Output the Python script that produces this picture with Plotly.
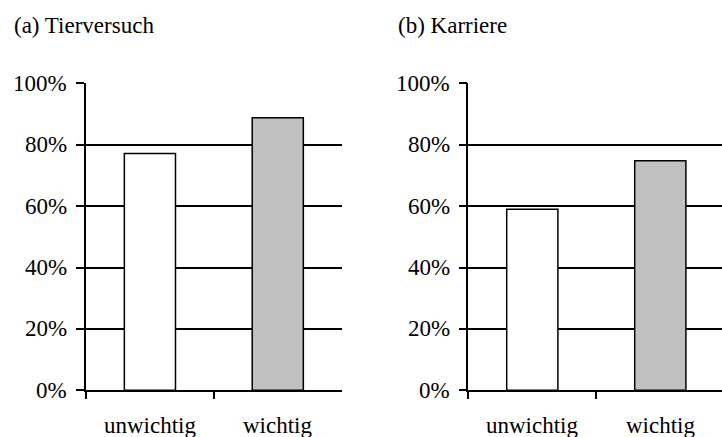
import plotly.graph_objects as go

categories = ["unwichtig", "wichtig"]
tierversuch = [0.771, 0.888]
karriere = [0.590, 0.748]
bar_colors = ["#FFFFFF", "#C0C0C0"]
titles = ["(a) Tierversuch", "(b) Karriere"]
y_ticks = [0, 0.2, 0.4, 0.6, 0.8, 1.0]
y_tick_labels = ["0%", "20%", "40%", "60%", "80%", "100%"]

W, H = 722, 437
FONT = dict(family="'Liberation Serif'", size=23, color="black")

fig = go.Figure()
fig.add_trace(go.Bar(x=categories, y=tierversuch, marker=dict(color=bar_colors, line=dict(color="black", width=1.5)),
                     width=0.4, xaxis="x", yaxis="y", showlegend=False, hoverinfo="skip"))
fig.add_trace(go.Bar(x=categories, y=karriere, marker=dict(color=bar_colors, line=dict(color="black", width=1.5)),
                     width=0.4, xaxis="x2", yaxis="y2", showlegend=False, hoverinfo="skip"))

ydom = [(H - 390.3) / H, (H - 83.3) / H]
xcommon = dict(type="category", showline=True, linecolor="black", linewidth=1.5, ticks="outside",
               tickson="boundaries", ticklen=7, tickwidth=1.5, tickcolor="black", showgrid=False,
               showticklabels=False, fixedrange=True, automargin=False)
ycommon = dict(range=[0, 1], tickvals=y_ticks, showline=True, linecolor="black", linewidth=1.5,
               ticks="outside", ticklen=8, tickwidth=1.5, tickcolor="black", showgrid=True, gridcolor="black",
               gridwidth=1.5, zeroline=False, showticklabels=False, domain=ydom, fixedrange=True,
               automargin=False)

annotations = [
    dict(text=titles[0], xref="paper", yref="paper", x=12 / W, y=(H - 25) / H, xanchor="left",
         yanchor="middle", showarrow=False, font=FONT),
    dict(text=titles[1], xref="paper", yref="paper", x=396 / W, y=(H - 25) / H, xanchor="left",
         yanchor="middle", showarrow=False, font=FONT),
]
# tick labels (serif), placed through the axes' own scales
for xr, yr, xlab in [("x", "y", 69 / W), ("x2", "y2", 452 / W)]:
    for v, lab in zip(y_ticks, y_tick_labels):
        annotations.append(dict(text=lab, xref="paper", yref=yr, x=xlab, y=v, xanchor="right",
                                yanchor="middle", showarrow=False, font=FONT))
    for c in categories:
        annotations.append(dict(text=c, xref=xr, yref="paper", x=c, y=(H - 410.5) / H, xanchor="center",
                                yanchor="top", showarrow=False, font=FONT))

fig.update_layout(
    template="none",
    width=W, height=H, margin=dict(l=0, r=0, t=0, b=0, pad=0),
    plot_bgcolor="white", paper_bgcolor="white", font=FONT,
    xaxis=dict(xcommon, domain=[86 / W, 341.7 / W], range=[-0.5, 1.5], anchor="y"),
    yaxis=dict(ycommon, anchor="x"),
    xaxis2=dict(xcommon, domain=[468.3 / W, 1.0], range=[-0.5, -0.5 + (W - 468.3) / 128], anchor="y2"),
    yaxis2=dict(ycommon, anchor="x2"),
    annotations=annotations,
)

post = """
document.body.style.margin='0';
document.body.style.overflow='hidden';
"""
fig.write_html("out.html", config={"displayModeBar": False}, post_script=post)
